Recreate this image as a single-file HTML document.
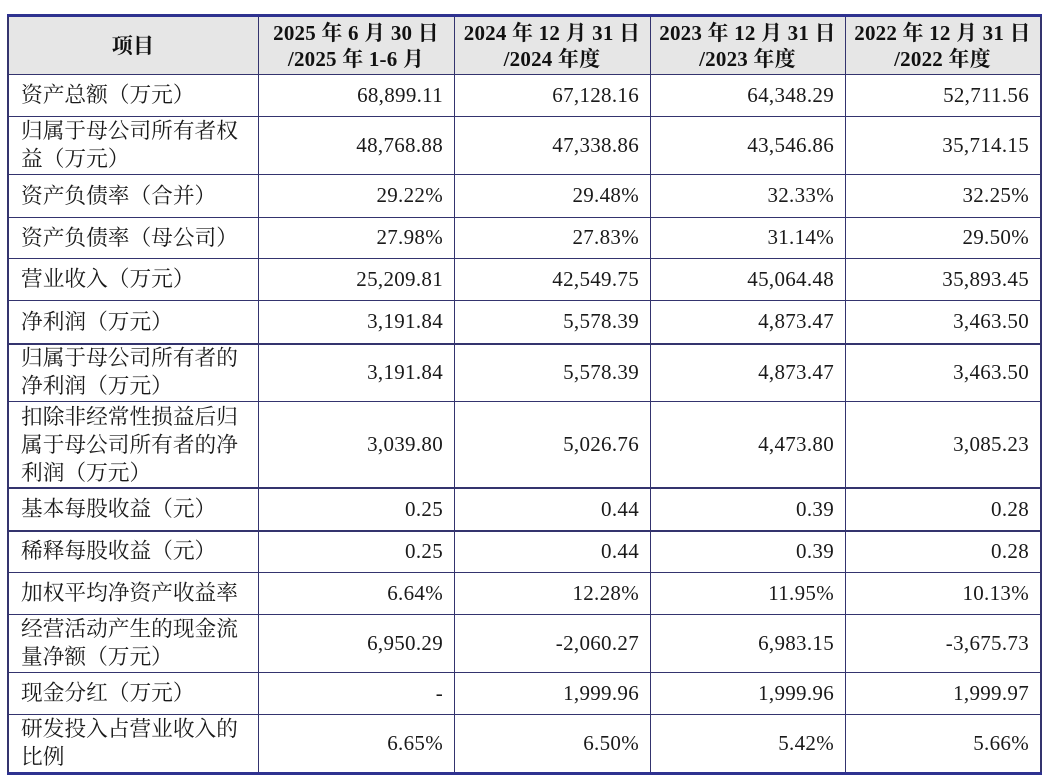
<!DOCTYPE html>
<html><head><meta charset="utf-8">
<style>
html,body{margin:0;padding:0;background:#fff;}
body{width:1050px;height:783px;position:relative;overflow:hidden;}
.c{position:absolute;display:flex;align-items:center;box-sizing:border-box;color:#1a1a1a;}
.l{padding-left:13px;font-family:"Liberation Serif","Noto Serif CJK SC",serif;font-size:21.7px;line-height:28px;white-space:nowrap;}
.n{justify-content:flex-end;padding-right:11px;font-family:"Liberation Serif","Noto Serif CJK SC",serif;font-size:21px;letter-spacing:0.3px;}
.h{justify-content:center;text-align:center;font-family:"Liberation Serif","Noto Serif CJK SC",serif;font-weight:bold;font-size:21px;line-height:26px;color:#111;letter-spacing:0.2px;}
.hl{position:absolute;left:8px;width:1033px;height:1px;background:#34346e;}
.vl{position:absolute;top:17px;height:755px;width:1px;background:#34346e;}
</style></head><body>
<div style="position:absolute;left:8px;top:17px;width:1032px;height:57px;background:#e6e6e6;"></div>

<!-- header -->
<div class="c h" style="left:8px;top:17px;width:250px;height:57px;">项目</div>
<div class="c h" style="left:258px;top:17px;width:196px;height:57px;">2025 年 6 月 30 日<br>/2025 年 1-6 月</div>
<div class="c h" style="left:454px;top:17px;width:196px;height:57px;">2024 年 12 月 31 日<br>/2024 年度</div>
<div class="c h" style="left:650px;top:17px;width:195px;height:57px;">2023 年 12 月 31 日<br>/2023 年度</div>
<div class="c h" style="left:845px;top:17px;width:195px;height:57px;">2022 年 12 月 31 日<br>/2022 年度</div>

<!-- rows -->
<div class="c l" style="left:8px;top:74px;width:250px;height:42px;">资产总额（万元）</div>
<div class="c n" style="left:258px;top:74px;width:196px;height:42px;">68,899.11</div>
<div class="c n" style="left:454px;top:74px;width:196px;height:42px;">67,128.16</div>
<div class="c n" style="left:650px;top:74px;width:195px;height:42px;">64,348.29</div>
<div class="c n" style="left:845px;top:74px;width:195px;height:42px;">52,711.56</div>

<div class="c l" style="left:8px;top:116px;width:250px;height:58px;">归属于母公司所有者权<br>益（万元）</div>
<div class="c n" style="left:258px;top:116px;width:196px;height:58px;">48,768.88</div>
<div class="c n" style="left:454px;top:116px;width:196px;height:58px;">47,338.86</div>
<div class="c n" style="left:650px;top:116px;width:195px;height:58px;">43,546.86</div>
<div class="c n" style="left:845px;top:116px;width:195px;height:58px;">35,714.15</div>

<div class="c l" style="left:8px;top:174px;width:250px;height:43px;">资产负债率（合并）</div>
<div class="c n" style="left:258px;top:174px;width:196px;height:43px;">29.22%</div>
<div class="c n" style="left:454px;top:174px;width:196px;height:43px;">29.48%</div>
<div class="c n" style="left:650px;top:174px;width:195px;height:43px;">32.33%</div>
<div class="c n" style="left:845px;top:174px;width:195px;height:43px;">32.25%</div>

<div class="c l" style="left:8px;top:217px;width:250px;height:41px;">资产负债率（母公司）</div>
<div class="c n" style="left:258px;top:217px;width:196px;height:41px;">27.98%</div>
<div class="c n" style="left:454px;top:217px;width:196px;height:41px;">27.83%</div>
<div class="c n" style="left:650px;top:217px;width:195px;height:41px;">31.14%</div>
<div class="c n" style="left:845px;top:217px;width:195px;height:41px;">29.50%</div>

<div class="c l" style="left:8px;top:258px;width:250px;height:42px;">营业收入（万元）</div>
<div class="c n" style="left:258px;top:258px;width:196px;height:42px;">25,209.81</div>
<div class="c n" style="left:454px;top:258px;width:196px;height:42px;">42,549.75</div>
<div class="c n" style="left:650px;top:258px;width:195px;height:42px;">45,064.48</div>
<div class="c n" style="left:845px;top:258px;width:195px;height:42px;">35,893.45</div>

<div class="c l" style="left:8px;top:300px;width:250px;height:43px;">净利润（万元）</div>
<div class="c n" style="left:258px;top:300px;width:196px;height:43px;">3,191.84</div>
<div class="c n" style="left:454px;top:300px;width:196px;height:43px;">5,578.39</div>
<div class="c n" style="left:650px;top:300px;width:195px;height:43px;">4,873.47</div>
<div class="c n" style="left:845px;top:300px;width:195px;height:43px;">3,463.50</div>

<div class="c l" style="left:8px;top:343px;width:250px;height:58px;">归属于母公司所有者的<br>净利润（万元）</div>
<div class="c n" style="left:258px;top:343px;width:196px;height:58px;">3,191.84</div>
<div class="c n" style="left:454px;top:343px;width:196px;height:58px;">5,578.39</div>
<div class="c n" style="left:650px;top:343px;width:195px;height:58px;">4,873.47</div>
<div class="c n" style="left:845px;top:343px;width:195px;height:58px;">3,463.50</div>

<div class="c l" style="left:8px;top:401px;width:250px;height:87px;">扣除非经常性损益后归<br>属于母公司所有者的净<br>利润（万元）</div>
<div class="c n" style="left:258px;top:401px;width:196px;height:87px;">3,039.80</div>
<div class="c n" style="left:454px;top:401px;width:196px;height:87px;">5,026.76</div>
<div class="c n" style="left:650px;top:401px;width:195px;height:87px;">4,473.80</div>
<div class="c n" style="left:845px;top:401px;width:195px;height:87px;">3,085.23</div>

<div class="c l" style="left:8px;top:488px;width:250px;height:42px;">基本每股收益（元）</div>
<div class="c n" style="left:258px;top:488px;width:196px;height:42px;">0.25</div>
<div class="c n" style="left:454px;top:488px;width:196px;height:42px;">0.44</div>
<div class="c n" style="left:650px;top:488px;width:195px;height:42px;">0.39</div>
<div class="c n" style="left:845px;top:488px;width:195px;height:42px;">0.28</div>

<div class="c l" style="left:8px;top:530px;width:250px;height:42px;">稀释每股收益（元）</div>
<div class="c n" style="left:258px;top:530px;width:196px;height:42px;">0.25</div>
<div class="c n" style="left:454px;top:530px;width:196px;height:42px;">0.44</div>
<div class="c n" style="left:650px;top:530px;width:195px;height:42px;">0.39</div>
<div class="c n" style="left:845px;top:530px;width:195px;height:42px;">0.28</div>

<div class="c l" style="left:8px;top:572px;width:250px;height:42px;">加权平均净资产收益率</div>
<div class="c n" style="left:258px;top:572px;width:196px;height:42px;">6.64%</div>
<div class="c n" style="left:454px;top:572px;width:196px;height:42px;">12.28%</div>
<div class="c n" style="left:650px;top:572px;width:195px;height:42px;">11.95%</div>
<div class="c n" style="left:845px;top:572px;width:195px;height:42px;">10.13%</div>

<div class="c l" style="left:8px;top:614px;width:250px;height:58px;">经营活动产生的现金流<br>量净额（万元）</div>
<div class="c n" style="left:258px;top:614px;width:196px;height:58px;">6,950.29</div>
<div class="c n" style="left:454px;top:614px;width:196px;height:58px;">-2,060.27</div>
<div class="c n" style="left:650px;top:614px;width:195px;height:58px;">6,983.15</div>
<div class="c n" style="left:845px;top:614px;width:195px;height:58px;">-3,675.73</div>

<div class="c l" style="left:8px;top:672px;width:250px;height:42px;">现金分红（万元）</div>
<div class="c n" style="left:258px;top:672px;width:196px;height:42px;">-</div>
<div class="c n" style="left:454px;top:672px;width:196px;height:42px;">1,999.96</div>
<div class="c n" style="left:650px;top:672px;width:195px;height:42px;">1,999.96</div>
<div class="c n" style="left:845px;top:672px;width:195px;height:42px;">1,999.97</div>

<div class="c l" style="left:8px;top:714px;width:250px;height:58px;">研发投入占营业收入的<br>比例</div>
<div class="c n" style="left:258px;top:714px;width:196px;height:58px;">6.65%</div>
<div class="c n" style="left:454px;top:714px;width:196px;height:58px;">6.50%</div>
<div class="c n" style="left:650px;top:714px;width:195px;height:58px;">5.42%</div>
<div class="c n" style="left:845px;top:714px;width:195px;height:58px;">5.66%</div>

<!-- horizontal lines -->
<div class="hl" style="top:74px"></div>
<div class="hl" style="top:116px"></div>
<div class="hl" style="top:174px"></div>
<div class="hl" style="top:217px"></div>
<div class="hl" style="top:258px"></div>
<div class="hl" style="top:300px"></div>
<div class="hl" style="top:343px;height:2px"></div>
<div class="hl" style="top:401px"></div>
<div class="hl" style="top:487px;height:2px"></div>
<div class="hl" style="top:530px;height:2px"></div>
<div class="hl" style="top:572px"></div>
<div class="hl" style="top:614px"></div>
<div class="hl" style="top:672px"></div>
<div class="hl" style="top:714px"></div>

<!-- vertical lines -->
<div class="vl" style="left:258px"></div>
<div class="vl" style="left:454px"></div>
<div class="vl" style="left:650px"></div>
<div class="vl" style="left:845px"></div>
<div class="vl" style="left:7px;width:2px;"></div>
<div class="vl" style="left:1040px;width:2px;"></div>

<!-- thick top/bottom -->
<div style="position:absolute;left:7px;top:14px;width:1035px;height:3px;background:#2e3290;"></div>
<div style="position:absolute;left:7px;top:772px;width:1035px;height:3px;background:#2e3290;"></div>
</body></html>
